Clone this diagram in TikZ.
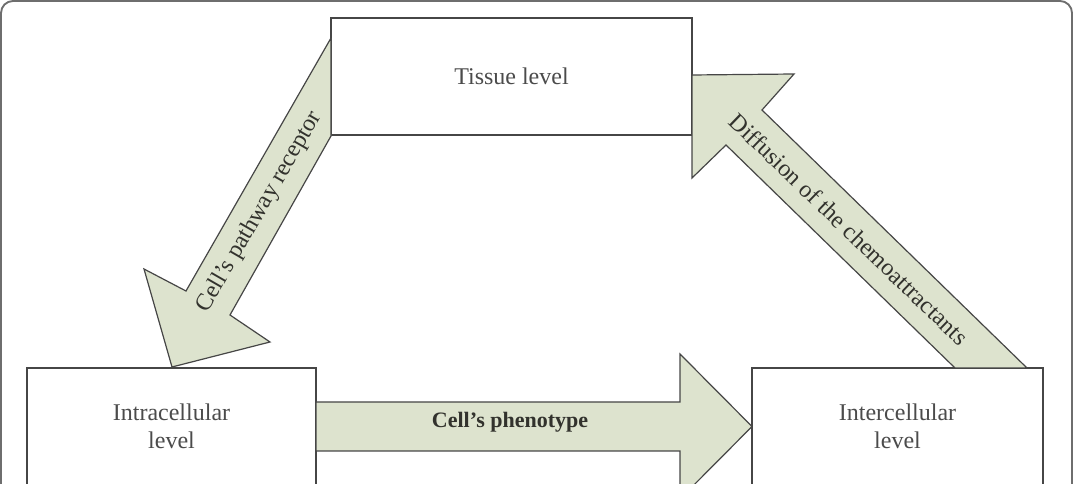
\documentclass[tikz,border=0pt]{standalone}
\usepackage{fontspec}
\setmainfont{Liberation Serif}
\definecolor{linecol}{RGB}{70,70,70}
\definecolor{framecol}{RGB}{110,110,110}
\definecolor{textcol}{RGB}{75,75,75}
\definecolor{lblcol}{RGB}{50,50,45}
\definecolor{arrowfill}{RGB}{221,227,206}
\begin{document}
\begin{tikzpicture}[x=0.75pt,y=-0.75pt,
  levelbox/.style={draw=linecol, line width=0.9pt, fill=white, text=textcol,
    font=\fontsize{18}{21}\selectfont, align=center, inner sep=0pt,
    minimum height=87.75pt},
  blockarrow/.style={draw=linecol, line width=0.9pt, fill=arrowfill, line join=miter},
  arrowlbl/.style={text=lblcol, font=\fontsize{18}{21}\selectfont, inner sep=0pt}]
\useasboundingbox (0,0) rectangle (1075,484);
\clip (0,0) rectangle (1075,484);
% outer frame
\draw[framecol, line width=1.4pt, rounded corners=9pt] (1,1) rectangle (1072,620);
% level boxes
\node[levelbox, minimum width=270.75pt] (tissue) at (511.5,76.5) {Tissue level};
\node[levelbox, minimum width=216.75pt] (intra) at (171.5,426.5) {Intracellular\\level};
\node[levelbox, minimum width=218.25pt] (inter) at (897.5,426.5) {Intercellular\\level};
% block arrows
\coordinate (pA) at (331,38);
\coordinate (pB) at (331,136);
\draw[blockarrow] (pA) -- (186,291) -- (144,269) -- (172,367) -- (270,342) -- (230,315) -- (pB) -- cycle;
\coordinate (dTip) at (692,75);
\draw[blockarrow] (dTip) -- (794,74) -- (762,110) -- (1027,368) -- (955,368) -- (726,145) -- (692,178) -- cycle;
\coordinate (cTail) at (316,402);
\draw[blockarrow] (cTail) -- (680,402) -- (680,354) -- (752,426.5) -- (680,499) -- (680,451) -- (316,451) -- cycle;
% arrow labels
\node[arrowlbl, rotate=60] (lrec) at (259.5,212) {Cell\char39 s pathway receptor};
\node[arrowlbl, rotate=-44] (ldiff) at (849,229) {Diffusion of the chemoattractants};
\node[arrowlbl, font=\fontsize{16.5}{20}\selectfont\bfseries] (lphen) at (510,422) {Cell\char39 s phenotype};
\end{tikzpicture}
\end{document}
